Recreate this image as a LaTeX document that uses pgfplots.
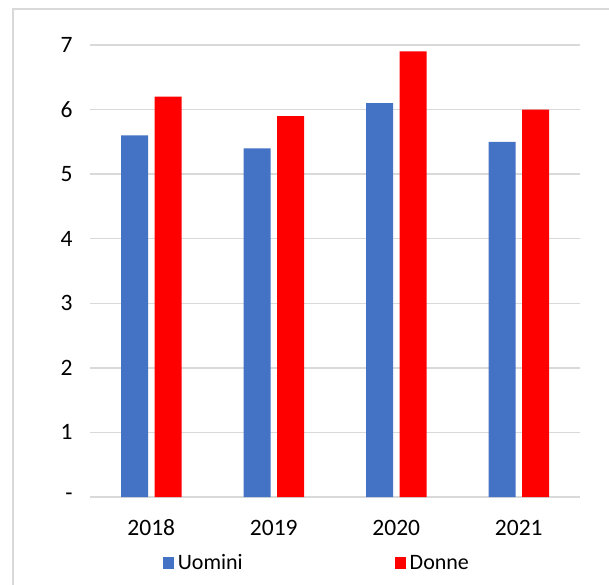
\documentclass[border=0pt]{standalone}
\usepackage{pgfplots}
\pgfplotsset{compat=1.18}
\usepackage{fontspec}
\setmainfont{Carlito}
\definecolor{uomini}{HTML}{4472C4}
\definecolor{donne}{HTML}{FF0000}
\definecolor{griglia}{HTML}{D9D9D9}
\begin{document}
\begin{tikzpicture}[x=1pt,y=1pt]
\useasboundingbox (0,0) rectangle (609,584);
\draw[griglia, line width=1.5pt] (13,-10) rectangle (620,575);
\begin{axis}[
        at={(90pt,87pt)}, anchor=south west,
        scale only axis,
        width=490pt, height=452pt,
        ybar=6.5pt,
        bar width=27pt,
        xmin=-0.5, xmax=3.5,
        ymin=0, ymax=7,
        xtick={0,1,2,3},
        xticklabels={2018,2019,2020,2021},
        ytick={0,1,2,3,4,5,6,7},
        yticklabels={-,1,2,3,4,5,6,7},
        /pgf/number format/assume math mode=true,
        axis line style={draw=none},
        major tick style={draw=none},
        ymajorgrids,
        grid style={griglia, line width=1.5pt},
        tick label style={font=\fontsize{23.5}{27}\selectfont, text=black},
        yticklabel style={xshift=-14pt},
        xticklabel style={yshift=-15pt},
        legend style={at={(axis description cs:0.463,-0.146)}, anchor=center,
            draw=none, font=\fontsize{22}{26}\selectfont,
            legend columns=2,
            /tikz/every odd column/.append style={column sep=2pt},
            /tikz/every even column/.append style={column sep=150pt}},
        legend image code/.code={\fill[#1] (0pt,-6pt) rectangle (11pt,6pt);},
    ]
    \addplot[fill=uomini, draw=none] coordinates {(0,5.6) (1,5.4) (2,6.1) (3,5.5)};
    \addlegendentry{Uomini}
    \addplot[fill=donne, draw=none] coordinates {(0,6.2) (1,5.9) (2,6.9) (3,6.0)};
    \addlegendentry{Donne}
\end{axis}
\end{tikzpicture}
\end{document}
